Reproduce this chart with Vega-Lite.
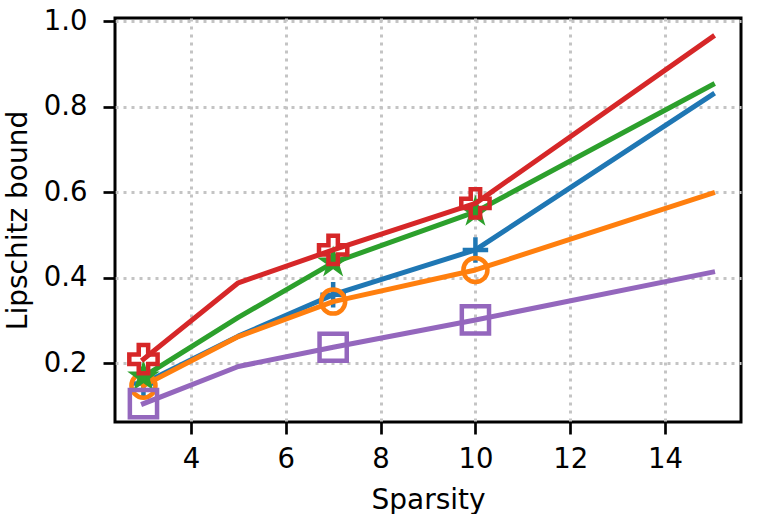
{
  "$schema": "https://vega.github.io/schema/vega-lite/v6.json",
  "width": 626,
  "height": 404,
  "autosize": {"type": "none"},
  "padding": {"left": 115, "top": 18, "right": 18, "bottom": 92},
  "background": "white",
  "config": {
    "font": "DejaVu Sans",
    "view": {"stroke": "black", "strokeWidth": 3},
    "axis": {
      "labelFont": "DejaVu Sans",
      "labelFontSize": 27.5,
      "labelColor": "black",
      "titleFont": "DejaVu Sans",
      "titleFontSize": 28,
      "titleFontWeight": "normal",
      "titleColor": "black",
      "tickColor": "black",
      "tickWidth": 2.7,
      "tickSize": 12,
      "domain": false,
      "grid": true,
      "gridColor": "#c4c4c4",
      "gridDash": [3, 5],
      "gridWidth": 3
    }
  },
  "data": {
    "values": [
      {"series": "s1", "x": 3, "y": 0.152, "marked": true},
      {"series": "s1", "x": 5, "y": 0.263, "marked": false},
      {"series": "s1", "x": 7, "y": 0.36, "marked": true},
      {"series": "s1", "x": 10, "y": 0.465, "marked": true},
      {"series": "s1", "x": 15, "y": 0.829, "marked": false},
      {"series": "s2", "x": 3, "y": 0.147, "marked": true},
      {"series": "s2", "x": 5, "y": 0.262, "marked": false},
      {"series": "s2", "x": 7, "y": 0.344, "marked": true},
      {"series": "s2", "x": 10, "y": 0.418, "marked": true},
      {"series": "s2", "x": 15, "y": 0.598, "marked": false},
      {"series": "s3", "x": 3, "y": 0.168, "marked": true},
      {"series": "s3", "x": 5, "y": 0.307, "marked": false},
      {"series": "s3", "x": 7, "y": 0.435, "marked": true},
      {"series": "s3", "x": 10, "y": 0.554, "marked": true},
      {"series": "s3", "x": 15, "y": 0.852, "marked": false},
      {"series": "s4", "x": 3, "y": 0.209, "marked": true},
      {"series": "s4", "x": 5, "y": 0.388, "marked": false},
      {"series": "s4", "x": 7, "y": 0.465, "marked": true},
      {"series": "s4", "x": 10, "y": 0.574, "marked": true},
      {"series": "s4", "x": 15, "y": 0.964, "marked": false},
      {"series": "s5", "x": 3, "y": 0.105, "marked": true},
      {"series": "s5", "x": 5, "y": 0.192, "marked": false},
      {"series": "s5", "x": 7, "y": 0.237, "marked": true},
      {"series": "s5", "x": 10, "y": 0.301, "marked": true},
      {"series": "s5", "x": 15, "y": 0.413, "marked": false}
    ]
  },
  "encoding": {
    "x": {
      "field": "x",
      "type": "quantitative",
      "title": "Sparsity",
      "scale": {"domain": [2.4, 15.6], "nice": false, "zero": false},
      "axis": {"values": [4, 6, 8, 10, 12, 14], "labelPadding": 11, "titlePadding": 14, "labelFlush": false}
    },
    "y": {
      "field": "y",
      "type": "quantitative",
      "title": "Lipschitz bound",
      "scale": {"domain": [0.062, 1.008], "nice": false, "zero": false},
      "axis": {"values": [0.2, 0.4, 0.6, 0.8, 1.0], "format": ".1f", "labelPadding": 16, "titlePadding": 11, "labelFlush": false}
    },
    "color": {
      "field": "series",
      "type": "nominal",
      "scale": {"domain": ["s1", "s2", "s3", "s4", "s5"], "range": ["#1f77b4", "#ff7f0e", "#2ca02c", "#d62728", "#9467bd"]},
      "legend": null
    }
  },
  "layer": [
    {
      "transform": [{"filter": "datum.series === 's1'"}],
      "mark": {"type": "line", "strokeWidth": 5, "strokeJoin": "round", "strokeCap": "square"}
    },
    {
      "transform": [{"filter": "datum.series === 's1' && datum.marked"}],
      "mark": {"type": "point", "shape": "M-1,0L1,0M0,-1L0,1", "strokeWidth": 4.5, "opacity": 1, "size": 650, "fill": "transparent"}
    },
    {
      "transform": [{"filter": "datum.series === 's2'"}],
      "mark": {"type": "line", "strokeWidth": 5, "strokeJoin": "round", "strokeCap": "square"}
    },
    {
      "transform": [{"filter": "datum.series === 's2' && datum.marked"}],
      "mark": {"type": "point", "shape": "circle", "strokeWidth": 4.5, "opacity": 1, "size": 580, "fill": "transparent"}
    },
    {
      "transform": [{"filter": "datum.series === 's3'"}],
      "mark": {"type": "line", "strokeWidth": 5, "strokeJoin": "round", "strokeCap": "square"}
    },
    {
      "transform": [{"filter": "datum.series === 's3' && datum.marked"}],
      "mark": {"type": "point", "shape": "M0,-1L0.2245,-0.309L0.951,-0.309L0.363,0.118L0.588,0.809L0,0.382L-0.588,0.809L-0.363,0.118L-0.951,-0.309L-0.2245,-0.309Z", "strokeWidth": 3, "opacity": 1, "size": 600, "fill": "#2ca02c", "filled": false}
    },
    {
      "transform": [{"filter": "datum.series === 's4'"}],
      "mark": {"type": "line", "strokeWidth": 5, "strokeJoin": "round", "strokeCap": "square"}
    },
    {
      "transform": [{"filter": "datum.series === 's4' && datum.marked"}],
      "mark": {"type": "point", "shape": "M-0.333,-1L0.333,-1L0.333,-0.333L1,-0.333L1,0.333L0.333,0.333L0.333,1L-0.333,1L-0.333,0.333L-1,0.333L-1,-0.333L-0.333,-0.333Z", "strokeWidth": 4.5, "opacity": 1, "size": 800, "fill": "transparent"}
    },
    {
      "transform": [{"filter": "datum.series === 's5'"}],
      "mark": {"type": "line", "strokeWidth": 5, "strokeJoin": "round", "strokeCap": "square"}
    },
    {
      "transform": [{"filter": "datum.series === 's5' && datum.marked"}],
      "mark": {"type": "point", "shape": "square", "strokeWidth": 4.5, "opacity": 1, "size": 740, "fill": "transparent"}
    }
  ]
}
